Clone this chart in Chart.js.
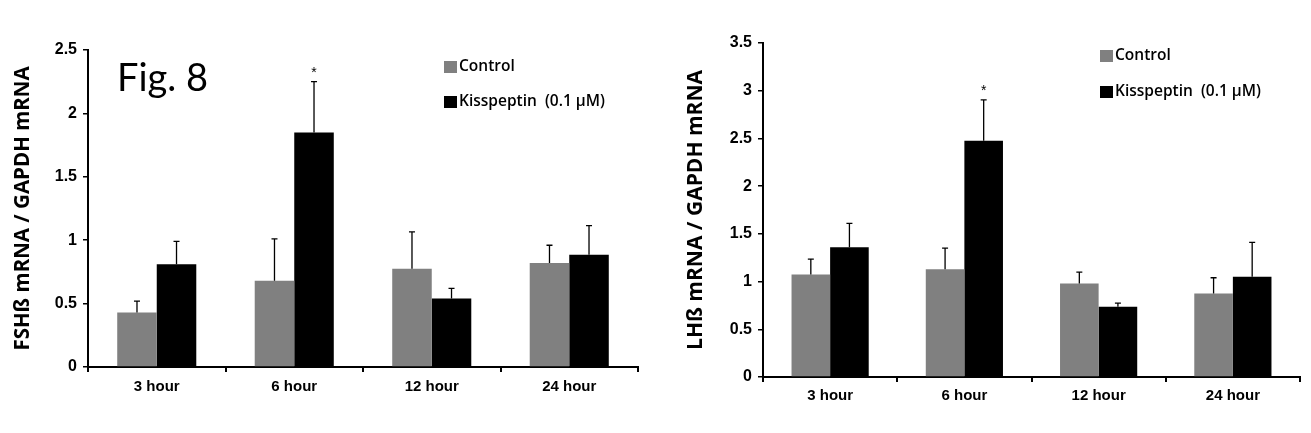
<!DOCTYPE html>
<html>
<head>
<meta charset="UTF-8">
<script src="https://cdn.jsdelivr.net/npm/chart.js@4.4.0/dist/chart.umd.min.js"></script>
<style>
  body, html { margin: 0; padding: 0; background: #fff; }
  .box { position: absolute; top: 0; height: 433px; }
  #left { left: 0; width: 655px; }
  #right { left: 655px; width: 656px; }
</style>
</head>
<body>
<div class="box" id="left"><canvas id="fsh"></canvas></div>
<div class="box" id="right"><canvas id="lh"></canvas></div>
<script>
const categories = ['3 hour', '6 hour', '12 hour', '24 hour'];
const seriesNames = ['Control', 'Kisspeptin  (0.1 \u00b5M)'];

// FSHβ panel
const fshControl = [0.43, 0.68, 0.775, 0.82];
const fshControlErr = [0.09, 0.33, 0.29, 0.14];
const fshKiss = [0.81, 1.85, 0.54, 0.885];
const fshKissErr = [0.18, 0.40, 0.08, 0.23];
const fshStars = [false, true, false, false];

// LHβ panel
const lhControl = [1.075, 1.13, 0.98, 0.875];
const lhControlErr = [0.16, 0.22, 0.12, 0.165];
const lhKiss = [1.36, 2.475, 0.735, 1.05];
const lhKissErr = [0.25, 0.43, 0.04, 0.36];
const lhStars = [false, true, false, false];

const GRAY = '#808080';
const BLACK = '#000000';

// draws upward error bars, stars, legend and the figure label
const extrasPlugin = {
  id: 'extras',
  afterDatasetsDraw(chart) {
    const ctx = chart.ctx;
    const y = chart.scales.y;
    const opts = chart.options.plugins.extras;
    ctx.save();
    ctx.strokeStyle = '#000';
    ctx.lineWidth = 1.3;
    chart.data.datasets.forEach((ds, i) => {
      const meta = chart.getDatasetMeta(i);
      meta.data.forEach((bar, j) => {
        const top = y.getPixelForValue(ds.data[j] + ds.errors[j]);
        ctx.beginPath();
        ctx.moveTo(bar.x, bar.y);
        ctx.lineTo(bar.x, top);
        ctx.moveTo(bar.x - 3, top);
        ctx.lineTo(bar.x + 3, top);
        ctx.stroke();
        if (ds.stars && ds.stars[j]) {
          ctx.fillStyle = '#000';
          ctx.font = '14px "Liberation Sans", Arial';
          ctx.textAlign = 'center';
          ctx.textBaseline = 'middle';
          ctx.fillText('*', bar.x, top - 9);
        }
      });
    });

    // legend
    ctx.font = '600 15.5px "Open Sans", sans-serif';
    ctx.textAlign = 'left';
    ctx.textBaseline = 'middle';
    chart.data.datasets.forEach((ds, i) => {
      const ly = opts.legendY[i];
      ctx.fillStyle = ds.backgroundColor;
      ctx.fillRect(opts.legendX, ly - 6, 13, 12);
      ctx.fillStyle = '#000';
      ctx.fillText(ds.label, opts.legendX + 15, ly);
    });

    if (opts.figLabel) {
      ctx.font = '38px Lato, sans-serif';
      ctx.textBaseline = 'alphabetic';
      ctx.fillText(opts.figLabel, opts.figX, opts.figY);
    }
    ctx.restore();
  }
};

function makeChart(id, control, controlErr, kiss, kissErr, stars, setup) {
  return new Chart(document.getElementById(id), {
    type: 'bar',
    data: {
      labels: categories,
      datasets: [
        { label: seriesNames[0], data: control, errors: controlErr, backgroundColor: GRAY },
        { label: seriesNames[1], data: kiss, errors: kissErr, stars: stars, backgroundColor: BLACK }
      ]
    },
    options: {
      responsive: true,
      maintainAspectRatio: false,
      animation: false,
      layout: { padding: { top: setup.top, right: setup.right, left: 0, bottom: 0 } },
      datasets: { bar: { categoryPercentage: 0.575, barPercentage: 1.0 } },
      plugins: {
        legend: { display: false },
        tooltip: { enabled: false },
        extras: setup.extras
      },
      scales: {
        x: {
          offset: true,
          afterFit: s => { s.height = setup.xHeight; },
          grid: { offset: true, drawOnChartArea: false, drawTicks: true, tickLength: 5, color: '#000', lineWidth: 2 },
          border: { color: '#000', width: 2 },
          ticks: { color: '#000', padding: setup.xPad, font: { family: '"Liberation Sans", Arial', weight: 'bold', size: 15 } }
        },
        y: {
          min: 0,
          max: setup.yMax,
          afterFit: s => { s.width = setup.yWidth; },
          grid: { drawOnChartArea: false, drawTicks: true, tickLength: 5, color: '#000', lineWidth: 1.5 },
          border: { color: '#000', width: 2 },
          ticks: {
            stepSize: 0.5, color: '#000', padding: 6,
            font: { family: '"Liberation Sans", Arial', weight: 'bold', size: 16 },
            callback: v => String(+v.toFixed(1))
          },
          title: {
            display: true,
            text: setup.yTitle,
            color: '#000',
            padding: { top: setup.titlePad, bottom: 0 },
            font: { family: '"Open Sans", sans-serif', weight: 'bold', size: setup.titleSize }
          }
        }
      }
    },
    plugins: [extrasPlugin]
  });
}

makeChart('fsh', fshControl, fshControlErr, fshKiss, fshKissErr, fshStars, {
  top: 50, right: 17, xHeight: 66, yWidth: 88, yMax: 2.5, xPad: 6, titlePad: 11, titleSize: 20.5,
  yTitle: 'FSH\u00df mRNA / GAPDH mRNA',
  extras: { legendX: 444, legendY: [67, 102], figLabel: 'Fig. 8', figX: 117, figY: 91 }
});

makeChart('lh', lhControl, lhControlErr, lhKiss, lhKissErr, lhStars, {
  top: 43, right: 11, xHeight: 56, yWidth: 108, yMax: 3.5, xPad: 5, titlePad: 28, titleSize: 21,
  yTitle: 'LH\u00df mRNA / GAPDH mRNA',
  extras: { legendX: 445, legendY: [56, 92] }
});
</script>
</body>
</html>
